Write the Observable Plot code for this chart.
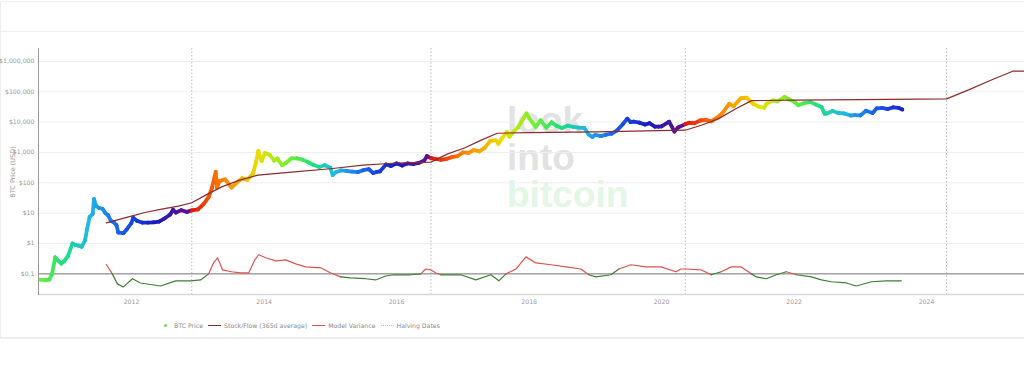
<!DOCTYPE html>
<html><head><meta charset="utf-8">
<script src="https://cdn.jsdelivr.net/npm/d3@7"></script>
<script src="https://cdn.jsdelivr.net/npm/@observablehq/plot@0.6"></script>
<style>
body{margin:0;background:#fff;font-family:"DejaVu Sans",Verdana,sans-serif;width:1024px;height:366px;overflow:hidden;position:relative;}
.box{position:absolute;box-sizing:border-box;}
#wm{position:absolute;left:507px;top:102px;font-family:"Liberation Sans",Arial,sans-serif;font-weight:bold;font-size:37px;line-height:37px;letter-spacing:0px;}
#wm div{white-space:nowrap;}
#chart{position:absolute;left:0;top:36px;}
#ylab{position:absolute;left:13px;top:172px;transform:translate(-50%,-50%) rotate(-90deg);font-size:6.5px;color:#999;white-space:nowrap;}
#legend{position:absolute;left:162px;top:322px;font-size:6.2px;color:#888;display:flex;align-items:center;white-space:nowrap;}
#legend span.sw{display:inline-block;width:13px;height:0;margin:0 3px 0 5px;}
</style></head><body>
<div class="box" style="left:0;top:1px;width:1024px;height:31px;border-top:1px solid #eee;border-bottom:1px solid #eee;border-left:1px solid #eee;"></div>
<div class="box" style="left:0;top:31px;width:1024px;height:308px;border-left:1px solid #eee;border-bottom:2px solid #eee;"></div>
<div id="wm"><div style="color:#e2e2e2">look</div><div style="color:#e2e2e2">into</div><div style="color:#e2f7e5">bitcoin</div></div>
<div id="chart"></div>
<div id="ylab">BTC Price (USD)</div>
<div id="legend">
  <span style="display:inline-block;width:3px;height:3px;border-radius:50%;background:#5fe060;margin:0 7px 0 2px"></span><span>BTC Price</span>
  <span class="sw" style="border-top:1.5px solid #8e2a2a"></span><span>Stock/Flow (365d average)</span>
  <span class="sw" style="border-top:1.5px solid #e0524f"></span><span>Model Variance</span>
  <span class="sw" style="border-top:1px dotted #bbb"></span><span>Halving Dates</span>
</div>
<script>
// ---- data ----
const priceDates = ["2010-08-06","2010-09-15","2010-10-05","2010-10-20","2010-11-06","2010-11-20","2010-12-10","2010-12-25","2011-01-15","2011-02-09","2011-02-25","2011-03-15","2011-04-01","2011-04-20","2011-05-01","2011-05-15","2011-06-01","2011-06-08","2011-06-20","2011-07-05","2011-07-25","2011-08-10","2011-08-25","2011-09-10","2011-09-25","2011-10-10","2011-10-20","2011-11-18","2011-12-05","2011-12-31","2012-01-10","2012-02-01","2012-03-01","2012-04-01","2012-05-01","2012-06-01","2012-07-01","2012-08-01","2012-08-17","2012-09-01","2012-10-01","2012-11-01","2012-11-28","2013-01-01","2013-02-01","2013-03-01","2013-03-20","2013-04-09","2013-04-16","2013-05-01","2013-06-01","2013-07-05","2013-08-01","2013-09-01","2013-10-01","2013-11-01","2013-11-18","2013-11-30","2013-12-18","2014-01-05","2014-02-01","2014-02-25","2014-03-15","2014-04-10","2014-05-01","2014-06-01","2014-07-01","2014-08-01","2014-09-01","2014-10-01","2014-11-01","2014-12-01","2015-01-01","2015-01-14","2015-02-01","2015-03-01","2015-04-01","2015-05-01","2015-06-01","2015-07-01","2015-08-01","2015-08-25","2015-09-15","2015-10-01","2015-11-04","2015-12-01","2016-01-01","2016-02-01","2016-03-01","2016-04-01","2016-05-01","2016-06-01","2016-06-17","2016-07-09","2016-08-01","2016-09-01","2016-10-01","2016-11-01","2016-12-01","2017-01-01","2017-02-01","2017-03-01","2017-04-01","2017-05-01","2017-06-01","2017-07-01","2017-07-15","2017-08-01","2017-09-01","2017-09-15","2017-10-01","2017-11-01","2017-12-17","2018-01-01","2018-02-06","2018-03-05","2018-04-06","2018-05-05","2018-06-01","2018-07-01","2018-08-01","2018-09-01","2018-10-01","2018-11-01","2018-11-25","2018-12-15","2019-01-01","2019-02-01","2019-03-01","2019-04-01","2019-05-01","2019-06-01","2019-06-26","2019-07-15","2019-08-01","2019-09-01","2019-10-01","2019-10-26","2019-11-25","2019-12-15","2020-01-01","2020-02-12","2020-03-12","2020-04-01","2020-05-11","2020-06-01","2020-07-01","2020-08-01","2020-09-01","2020-10-01","2020-11-01","2020-12-01","2021-01-08","2021-02-01","2021-03-13","2021-04-14","2021-05-20","2021-06-22","2021-07-20","2021-08-01","2021-09-06","2021-10-01","2021-11-10","2021-12-01","2022-01-01","2022-01-24","2022-03-01","2022-04-01","2022-05-01","2022-06-01","2022-06-18","2022-07-01","2022-08-01","2022-09-01","2022-10-01","2022-11-09","2022-12-01","2023-01-01","2023-02-01","2023-03-10","2023-04-01","2023-05-01","2023-06-01","2023-07-01","2023-08-01","2023-08-20"];
const priceValues = [0.065,0.062,0.065,0.10,0.35,0.28,0.22,0.26,0.38,1.0,0.9,0.85,0.78,1.3,3.0,7.5,9.5,29,17,15,14,10,8.5,5.5,5,4,2.3,2.2,2.9,4.7,7.0,5.5,4.9,4.9,5.0,5.3,6.7,9,13,10.5,12.5,11,12.3,13.3,20,34,70,230,70,116,129,70,98,140,125,203,500,1130,520,950,830,540,630,380,450,640,640,580,475,385,330,380,315,180,225,255,245,235,225,260,280,210,230,237,400,360,430,370,435,416,450,535,760,650,620,575,610,700,750,1000,970,1190,1080,1420,2400,2500,1950,2750,4700,3300,4400,6750,19300,13500,6900,11500,6600,9800,7500,6400,7600,7000,6600,6350,3900,3250,3800,3450,3850,4150,5350,8500,13000,10000,10400,9600,8300,9200,7100,7100,7200,10300,4900,6600,8600,9500,9200,11300,11900,10600,13700,19700,40000,33500,61000,63500,40000,32000,29800,40000,52000,48000,67500,57000,47000,36000,43000,45500,38000,31500,19000,19300,23300,20000,19400,16500,17000,16600,23700,20000,28500,29200,27000,30500,29200,26100];

const sfDates = ["2011-08-15","2011-10-15","2011-12-31","2012-03-15","2012-06-15","2012-09-15","2012-11-28","2013-02-15","2013-05-15","2013-08-15","2013-11-28","2014-06-01","2015-01-01","2015-07-01","2016-01-01","2016-07-09","2016-10-09","2017-01-09","2017-04-09","2017-07-09","2018-01-01","2019-01-01","2020-05-11","2020-08-11","2020-11-11","2021-02-11","2021-05-11","2022-01-01","2023-01-01","2024-04-20","2024-08-20","2024-12-20","2025-04-20","2025-06-24"];
const sfValues = [4.8,6,8,10.5,13.5,17,22,40,75,120,180,225,290,380,450,480,900,1400,2500,4300,4500,4800,5400,8000,13000,27000,51000,53000,55000,58000,115000,240000,475000,480000];

const varDates = ["2011-08-15","2011-09-17","2011-10-15","2011-11-17","2012-01-06","2012-02-19","2012-06-09","2012-08-31","2012-11-21","2013-01-16","2013-03-01","2013-03-28","2013-04-19","2013-05-17","2013-07-05","2013-08-24","2013-10-08","2013-11-10","2013-12-02","2014-01-10","2014-03-06","2014-04-30","2014-06-24","2014-08-18","2014-11-09","2015-01-03","2015-02-27","2015-04-23","2015-07-15","2015-09-08","2015-11-02","2015-12-16","2016-03-18","2016-05-13","2016-06-10","2016-07-08","2016-08-05","2016-09-02","2016-12-20","2017-03-13","2017-06-04","2017-07-18","2017-08-26","2017-10-20","2017-12-14","2018-02-07","2018-05-01","2018-07-23","2018-10-13","2018-11-26","2019-01-04","2019-03-28","2019-05-11","2019-07-16","2019-10-07","2019-12-29","2020-03-20","2020-04-17","2020-05-16","2020-08-07","2020-10-01","2020-11-25","2021-01-19","2021-03-15","2021-05-10","2021-06-07","2021-07-31","2021-09-25","2021-11-19","2022-01-13","2022-04-06","2022-05-31","2022-07-25","2022-10-16","2022-12-10","2023-03-03","2023-05-25","2023-08-15"];
const varValues = [0.31,0,-0.33,-0.43,-0.16,-0.30,-0.40,-0.23,-0.23,-0.20,0,0.36,0.53,0.13,0.07,0.03,0.03,0.46,0.63,0.53,0.43,0.46,0.33,0.23,0.20,0.03,-0.10,-0.13,-0.16,-0.20,-0.07,-0.03,-0.03,0,0.16,0.13,0.03,-0.03,-0.03,-0.20,-0.03,-0.23,0,0.16,0.56,0.36,0.30,0.23,0.16,-0.03,-0.10,-0.03,0.16,0.30,0.23,0.23,0.07,0.16,0.16,0.13,-0.03,0.07,0.23,0.23,0,-0.10,-0.16,-0.03,0.07,-0.03,-0.10,-0.20,-0.26,-0.30,-0.40,-0.26,-0.23,-0.23];

const halvingDates = ["2012-11-28","2016-07-09","2020-05-11","2024-04-20"];
const cycleStarts = ["2009-01-03","2012-11-28","2016-07-09","2020-05-11","2024-04-20","2028-04-01"];
const yTicks = [0.1,1,10,100,1000,10000,100000,1000000];
const xTicks = ["2012-01-01","2014-01-01","2016-01-01","2018-01-01","2020-01-01","2022-01-01","2024-01-01"];
const xDomain = ["2010-08-06","2025-06-24"];
const yDomain = [0.0209, 2.66e6];

// ---- styling helpers ----
const stopT = [0,0.12,0.28,0.40,0.50,0.60,0.72,0.85,1];
const stopC = ["#e8160c","#ff8000","#e8e000","#70f030","#20e080","#20b8e8","#1a5ef0","#1a1ac0","#6a0f8a"];
const cycleColor = d3.scaleLinear().domain(stopT).range(stopC).interpolate(d3.interpolateRgb).clamp(true);
const cs = cycleStarts.map(s => new Date(s));
function colorFor(d) {
  let i = 0;
  while (i < cs.length - 2 && d >= cs[i+1]) i++;
  const t = (d - cs[i]) / (cs[i+1] - cs[i]);
  return cycleColor(t);
}
const price = priceDates.map((s, i) => { const d = new Date(s); return {date: d, value: priceValues[i], color: colorFor(d)}; });
const sf = sfDates.map((s, i) => ({date: new Date(s), value: sfValues[i]}));
const RED = "#e0524f", GREEN = "#3d8030";
const variance = varDates.map((s, i) => {
  const v = varValues[i];
  const next = i < varValues.length - 1 ? varValues[i+1] : v;
  const sign = v !== 0 ? v : next;
  return {date: new Date(s), y: 0.1 * Math.pow(10, v), color: sign >= 0 ? RED : GREEN};
});

const chart = Plot.plot({
  width: 1024, height: 280,
  marginLeft: 38, marginRight: 0, marginTop: 12, marginBottom: 22,
  style: {background: "transparent", fontFamily: "'DejaVu Sans', Verdana, sans-serif", fontSize: "6.2px", color: "#999", overflow: "visible"},
  x: {type: "utc", domain: xDomain.map(s => new Date(s))},
  y: {type: "log", domain: yDomain},
  marks: [
    Plot.gridY(yTicks, {stroke: "#eee", strokeOpacity: 1}),
    Plot.ruleX(halvingDates.map(s => new Date(s)), {stroke: "#bbb", strokeDasharray: "1.5,2", strokeWidth: 1}),
    Plot.frame({anchor: "bottom", stroke: "#d8d8d8", strokeWidth: 1.5}),
    Plot.ruleY([0.1], {stroke: "#7a7a7a", strokeWidth: 1}),
    Plot.line(variance, {x: "date", y: "y", stroke: "color", z: null, strokeWidth: 1.2, clip: true}),
    Plot.line(price, {x: "date", y: "value", stroke: "color", z: null, strokeWidth: 3.8, strokeLinecap: "round", strokeLinejoin: "round", clip: true}),
    Plot.dot(price, {x: "date", y: "value", fill: "color", r: 1.8, clip: true}),
    Plot.line(sf, {x: "date", y: "value", stroke: "#8e2a2a", strokeWidth: 1.2, clip: true}),
    Plot.frame({anchor: "left", stroke: "#999", strokeWidth: 1}),
    Plot.axisY(yTicks, {tickSize: 0, tickPadding: 4, label: null, fill: "#999", tickFormat: d => "$" + d3.format(",")(d)}),
    Plot.axisX(xTicks.map(s => new Date(s)), {tickSize: 0, tickPadding: 5, label: null, fill: "#999", tickFormat: d3.utcFormat("%Y")})
  ]
});
document.getElementById("chart").appendChild(chart);
</script>
</body></html>
